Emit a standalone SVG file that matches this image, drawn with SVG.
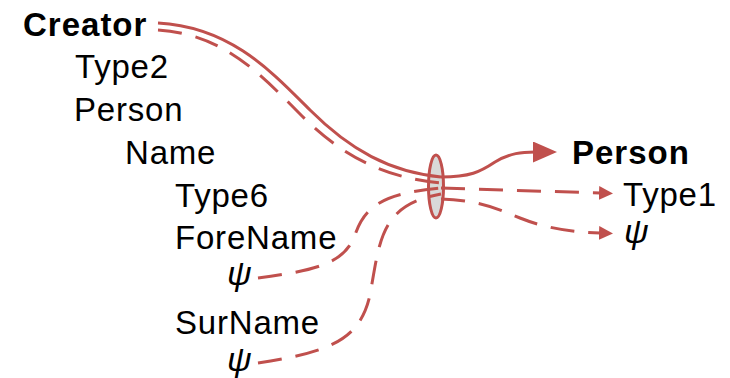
<svg xmlns="http://www.w3.org/2000/svg" width="730" height="378" viewBox="0 0 730 378">
<style>
text{font-family:"Liberation Sans",Arial,sans-serif;font-size:33px;fill:#000;letter-spacing:0.8px}
.b{font-weight:bold;letter-spacing:1px}
.psi{font-style:italic;font-size:34px}
.c{fill:none;stroke:#C0504D;stroke-width:3}
.d{stroke-dasharray:24 14}
</style>
<defs>
<marker id="big" markerUnits="userSpaceOnUse" markerWidth="26" markerHeight="22" refX="2" refY="10.5" orient="auto">
<path d="M0,0 L24,10.5 L0,21 z" fill="#C0504D"/>
</marker>
<marker id="small" markerUnits="userSpaceOnUse" markerWidth="16" markerHeight="16" refX="1" refY="7" orient="auto">
<path d="M0,0 L14,7 L0,14 z" fill="#C0504D"/>
</marker>
</defs>
<g id="hub">
<ellipse cx="436" cy="186.5" rx="7.5" ry="31.5" fill="#D9D9D9" stroke="#C0504D" stroke-width="3"/>
</g>
<g id="connectors">
<path class="c" d="M158,23 C230,27 270,70 310,110 S390,172 441,177"/>
<path class="c d" d="M158,30 C225,34 262,76 302,116 S385,178 441,183"/>
<path class="c d" d="M258,278 C320,270 345,262 355,235 C365,205 385,193 441,188"/>
<path class="c d" d="M258,363 C330,352 360,340 370,295 C380,240 380,205 441,194"/>
<path class="c" d="M441,177 C470,177 480,172 495,162 C510,153 522,152 535,152" marker-end="url(#big)"/>
<path class="c d" d="M441,188 L600,193" marker-end="url(#small)"/>
<path class="c d" d="M441,199 C480,200 500,210 520,218 C545,228 570,232 600,233" marker-end="url(#small)"/>
</g>
<g id="creator"><text class="b" x="23" y="36">Creator</text></g>
<g id="type2"><text x="75" y="78">Type2</text></g>
<g id="person-l"><text x="74" y="121">Person</text></g>
<g id="name"><text x="125" y="164">Name</text></g>
<g id="type6"><text x="175" y="207">Type6</text></g>
<g id="forename"><text x="175" y="249">ForeName</text></g>
<g id="psi1"><text class="psi" x="227" y="285">ψ</text></g>
<g id="surname"><text x="175" y="334">SurName</text></g>
<g id="psi2"><text class="psi" x="227" y="371">ψ</text></g>
<g id="person-r"><text class="b" x="572" y="164">Person</text></g>
<g id="type1"><text x="623" y="206">Type1</text></g>
<g id="psi3"><text class="psi" x="624" y="243">ψ</text></g>
</svg>
